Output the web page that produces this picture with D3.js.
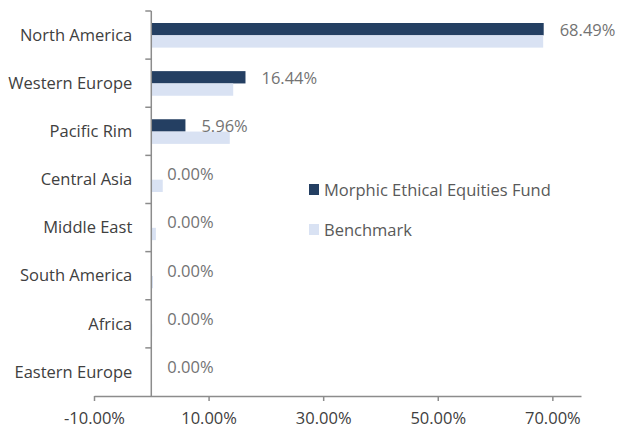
<!DOCTYPE html>
<html><head><meta charset="utf-8">
<script src="https://cdn.jsdelivr.net/npm/d3@7"></script>
<style>body{margin:0;background:#fff}svg{display:block;font-family:"Open Sans",sans-serif}</style>
</head><body>
<script>
const categories = ["North America","Western Europe","Pacific Rim","Central Asia","Middle East","South America","Africa","Eastern Europe"];
const fundValues = [68.49,16.44,5.96,0,0,0,0,0];
const benchmarkValues = [68.4,14.3,13.7,2.0,0.8,0.3,0.15,0];
const seriesNames = ["Morphic Ethical Equities Fund","Benchmark"];
const xTicks = [-10,10,30,50,70];
const colors = ["#243F62","#D9E2F3"];

const W=619,H=430, FS=16.5;
const svg=d3.select("body").append("svg").attr("width",W).attr("height",H);
const x=d3.scaleLinear().domain([-10,75]).range([94,581]);
const y=d3.scaleBand().domain(categories).range([11,396]);
const inner=d3.scaleBand().domain(seriesNames).range([12,y.bandwidth()-11.5]);

const data=categories.map((c,i)=>({c,vals:[fundValues[i],benchmarkValues[i]]}));
const g=svg.append("g");
data.forEach(d=>{
  d.vals.forEach((v,j)=>{
    g.append("rect").attr("x",x(Math.min(0,v))).attr("y",y(d.c)+inner(seriesNames[j]))
     .attr("width",Math.abs(x(v)-x(0))).attr("height",inner.bandwidth()).attr("fill",colors[j]);
  });
  svg.append("text").attr("x",x(d.vals[0])+16).attr("y",y(d.c)+inner(seriesNames[0])+inner.bandwidth()/2+1)
    .attr("dy","0.35em").attr("fill","#737373").attr("font-size",FS).text(d.vals[0].toFixed(2)+"%");
});

// x axis
const xa=svg.append("g").attr("transform","translate(0,396)")
  .call(d3.axisBottom(x).tickValues(xTicks).tickSize(5).tickSizeOuter(0).tickFormat(v=>v.toFixed(2)+"%"));
xa.select(".domain").attr("stroke","#8c8c8c").attr("stroke-width",1.5);
xa.selectAll(".tick line").attr("stroke","#8c8c8c").attr("stroke-width",1.5);
xa.selectAll("text").attr("fill","#404040").attr("font-size",FS).attr("font-family","Open Sans").attr("y",22).attr("dy","0.35em");

// y axis
const ya=svg.append("g").attr("transform",`translate(${x(0)},0)`);
ya.append("line").attr("x1",0).attr("x2",0).attr("y1",11).attr("y2",396).attr("stroke","#8c8c8c").attr("stroke-width",1.5);
const bounds=categories.map(c=>y(c));
ya.selectAll("line.t").data(bounds).join("line").attr("class","t").attr("x1",-6).attr("x2",0)
  .attr("y1",d=>d).attr("y2",d=>d).attr("stroke","#8c8c8c").attr("stroke-width",1.5);
svg.selectAll("text.cat").data(categories).join("text").attr("class","cat")
  .attr("x",x(0)-19).attr("y",d=>y(d)+y.bandwidth()/2).attr("dy","0.35em").attr("text-anchor","end")
  .attr("fill","#404040").attr("font-size",FS).text(d=>d);

// legend
const lg=svg.append("g").attr("transform","translate(309,184)");
seriesNames.forEach((n,i)=>{
  lg.append("rect").attr("x",0).attr("y",i*40).attr("width",10).attr("height",11).attr("fill",colors[i]);
  lg.append("text").attr("x",15).attr("y",i*40+6).attr("dy","0.35em").attr("fill","#595959").attr("font-size",FS).text(n);
});
</script>
</body></html>
